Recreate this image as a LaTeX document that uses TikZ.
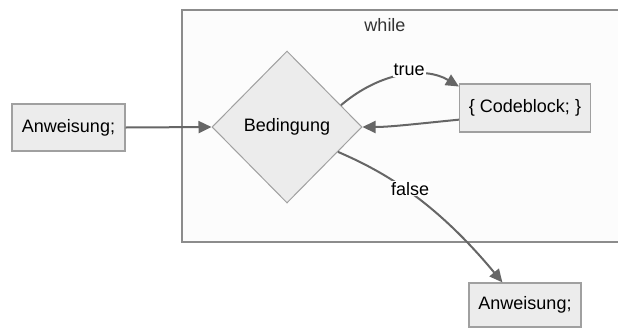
\documentclass[tikz,border=0pt]{standalone}
\usepackage{fontspec}
\setmainfont{Liberation Sans}
\usetikzlibrary{shapes.geometric,arrows.meta}
\definecolor{nodefill}{HTML}{ECECEC}
\definecolor{nodeline}{HTML}{A0A0A0}
\definecolor{clusterfill}{HTML}{FCFCFC}
\definecolor{clusterline}{HTML}{8C8C8C}
\definecolor{edgeline}{HTML}{666666}
\begin{document}
\begin{tikzpicture}[x=1pt, y=-1pt,
    box/.style={draw=nodeline, fill=nodefill, line width=1.2pt, inner sep=0pt,
      font=\fontsize{18}{21}\selectfont},
    cond/.style={diamond, draw=nodeline, fill=nodefill, line width=1pt, inner sep=0pt,
      minimum width=150pt, minimum height=152pt, font=\fontsize{18}{21}\selectfont},
    flow/.style={draw=edgeline, line width=2pt, -{Triangle[length=13pt, width=12pt]}},
    flowlabel/.style={fill=white, inner sep=1pt, font=\fontsize{18}{21}\selectfont}]
  \useasboundingbox (0, 0) rectangle (618, 327);
  \clip (0, 0) rectangle (618, 327);
  % while cluster
  \draw[draw=clusterline, fill=clusterfill, line width=1.2pt] (182, 10) rectangle (640, 242);
  \node[text=black!80, font=\fontsize{18}{21}\selectfont] (whilelabel) at (385, 25) {while};
  % nodes
  \node[box, minimum width=113pt, minimum height=47pt] (start) at (68.5, 127.5) {Anweisung;};
  \node[cond] (cond) at (287, 127) {Bedingung};
  \node[box, minimum width=131pt, minimum height=48pt] (code) at (525, 108) {\{ Codeblock; \}};
  \node[box, minimum width=112pt, minimum height=44pt] (after) at (525, 305) {Anweisung;};
  % connectors
  \draw[flow] (cond.22) .. controls (380, 72) and (425, 66) ..
    node[flowlabel, pos=0.56, yshift=5pt] {true} (code.162);
  \draw[flow] (start.east) -- (cond.west);
  \draw[flow] (code.190) .. controls (415, 124) and (390, 127) .. (cond.east);
  \draw[flow] (cond.-26) .. controls (375, 168) and (430, 195) ..
    node[flowlabel, pos=0.52, yshift=4pt] {false} (after.135);
\end{tikzpicture}
\end{document}
